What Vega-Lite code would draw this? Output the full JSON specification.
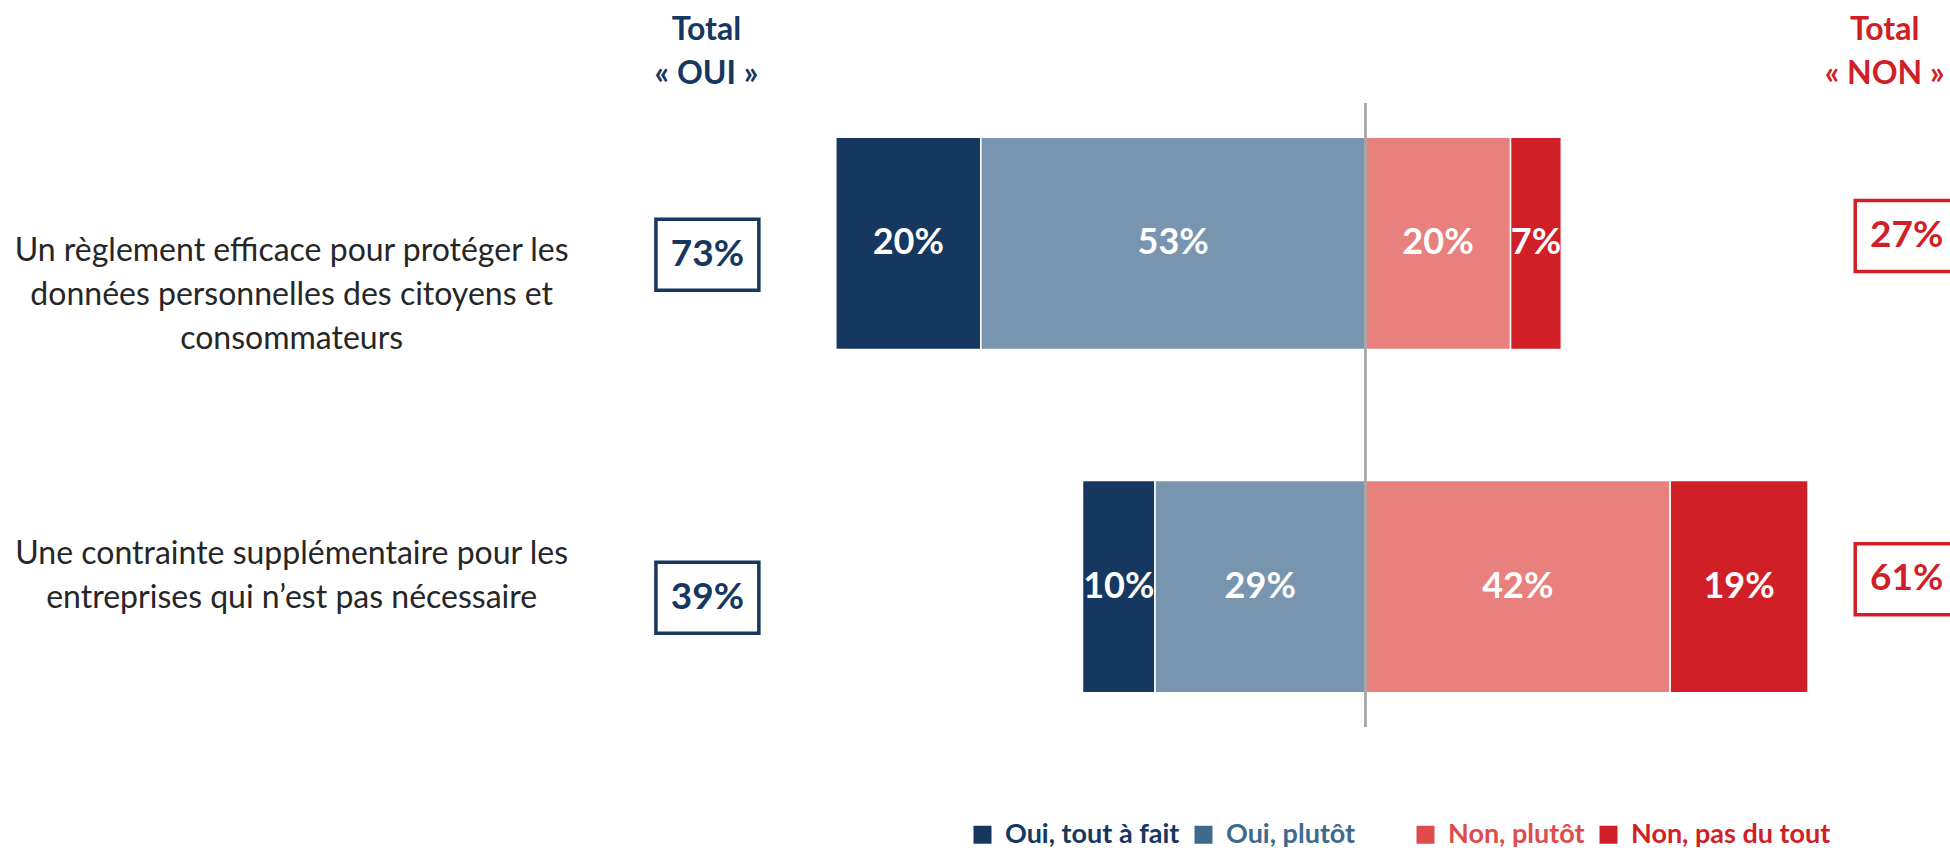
{
  "$schema": "https://vega.github.io/schema/vega-lite/v6.json",
  "width": 1950,
  "height": 624,
  "padding": {"top": 13, "left": 0, "right": 0, "bottom": 0},
  "background": "white",
  "config": {"view": {"stroke": null}, "font": "Lato"},
  "resolve": {"scale": {"color": "independent"}, "axis": {"x": "independent"}},
  "data": {
    "values": [
      {"question": "Un règlement efficace pour protéger les\ndonnées personnelles des citoyens et\nconsommateurs", "answer": "Oui, tout à fait", "value": -20, "level": 2},
      {"question": "Un règlement efficace pour protéger les\ndonnées personnelles des citoyens et\nconsommateurs", "answer": "Oui, plutôt", "value": -53, "level": 1},
      {"question": "Un règlement efficace pour protéger les\ndonnées personnelles des citoyens et\nconsommateurs", "answer": "Non, plutôt", "value": 20, "level": 1},
      {"question": "Un règlement efficace pour protéger les\ndonnées personnelles des citoyens et\nconsommateurs", "answer": "Non, pas du tout", "value": 7, "level": 2},
      {"question": "Une contrainte supplémentaire pour les\nentreprises qui n’est pas nécessaire", "answer": "Oui, tout à fait", "value": -10, "level": 2},
      {"question": "Une contrainte supplémentaire pour les\nentreprises qui n’est pas nécessaire", "answer": "Oui, plutôt", "value": -29, "level": 1},
      {"question": "Une contrainte supplémentaire pour les\nentreprises qui n’est pas nécessaire", "answer": "Non, plutôt", "value": 42, "level": 1},
      {"question": "Une contrainte supplémentaire pour les\nentreprises qui n’est pas nécessaire", "answer": "Non, pas du tout", "value": 19, "level": 2}
    ]
  },
  "layer": [
    {
      "transform": [
        {"stack": "value", "groupby": ["question"], "sort": [{"field": "level", "order": "ascending"}], "as": ["x0", "x1"]}
      ],
      "mark": {"type": "bar", "stroke": "white", "strokeWidth": 1.5},
      "encoding": {
        "x": {
          "field": "x0",
          "type": "quantitative",
          "scale": {"domain": [-188.2, 80.57], "nice": false, "zero": false},
          "axis": {
            "orient": "top",
            "values": [-90.9, 71.5],
            "labelExpr": "datum.value < 0 ? ['Total', '« OUI »'] : ['Total', '« NON »']",
            "labelColor": {"condition": {"test": "datum.value < 0", "value": "#16375f"}, "value": "#d11f27"},
            "labelFont": "Lato",
            "labelFontWeight": "bold",
            "labelFontSize": 32,
            "labelLineHeight": 44,
            "labelPadding": 57,
            "labelAlign": "center",
            "labelBaseline": "bottom",
            "labelOverlap": false,
            "labelFlush": false,
            "labelBound": false,
            "domain": false,
            "ticks": false,
            "tickSize": 0,
            "grid": false,
            "title": null
          }
        },
        "x2": {"field": "x1"},
        "y": {
          "field": "question",
          "type": "nominal",
          "scale": {"paddingInner": 0.382, "paddingOuter": 0.1, "align": 0.5},
          "axis": null
        },
        "color": {
          "field": "answer",
          "type": "nominal",
          "scale": {
            "domain": ["Oui, tout à fait", "Oui, plutôt", "Non, plutôt", "Non, pas du tout"],
            "range": ["#16375f", "#7795ae", "#e8807e", "#d11f27"]
          },
          "legend": null
        }
      }
    },
    {
      "mark": {"type": "square", "opacity": 0},
      "encoding": {
        "x": {"datum": 0, "type": "quantitative", "axis": null},
        "y": {"field": "question", "type": "nominal", "axis": null},
        "color": {
          "field": "answer",
          "type": "nominal",
          "scale": {
            "domain": ["Oui, tout à fait", "Oui, plutôt", " ", "Non, plutôt", "Non, pas du tout"],
            "range": ["#16375f", "#3f6a8c", "transparent", "#e04b4b", "#d11f27"]
          },
          "legend": {
            "orient": "none",
            "legendX": 969,
            "legendY": 718,
            "direction": "horizontal",
            "title": null,
            "symbolType": "square",
            "symbolSize": 324,
            "symbolStrokeWidth": 0,
            "symbolOpacity": 1,
            "labelFont": "Lato",
            "labelFontWeight": "bold",
            "labelFontSize": 27,
            "labelOffset": 9,
            "columnPadding": 10,
            "padding": 0,
            "labelLimit": 400,
            "labelColor": {"expr": "datum.value === 'Oui, tout à fait' ? '#16375f' : datum.value === 'Oui, plutôt' ? '#3f6a8c' : datum.value === 'Non, plutôt' ? '#e04b4b' : datum.value === 'Non, pas du tout' ? '#d11f27' : 'transparent'"}
          }
        }
      }
    },
    {
      "mark": {"type": "rule", "color": "#a6a6a6", "strokeWidth": 1.5},
      "encoding": {"x": {"datum": 0, "type": "quantitative", "axis": null}}
    },
    {
      "transform": [
        {"stack": "value", "groupby": ["question"], "sort": [{"field": "level", "order": "ascending"}], "as": ["x0", "x1"]},
        {"calculate": "(datum.x0 + datum.x1) / 2", "as": "mid"},
        {"calculate": "abs(datum.value) + '%'", "as": "lbl"}
      ],
      "mark": {"type": "text", "font": "Lato", "fontWeight": "bold", "fontSize": 36, "color": "white", "align": "center", "baseline": "middle"},
      "encoding": {
        "x": {"field": "mid", "type": "quantitative", "axis": null},
        "y": {"field": "question", "type": "nominal", "axis": null},
        "text": {"field": "lbl"}
      }
    },
    {
      "transform": [
        {"filter": "datum.value < 0"},
        {"aggregate": [{"op": "sum", "field": "value", "as": "s"}], "groupby": ["question"]},
        {"calculate": "abs(datum.s) + '%'", "as": "tot"}
      ],
      "encoding": {
        "x": {"datum": -90.7, "type": "quantitative", "axis": null},
        "y": {"field": "question", "type": "nominal", "bandPosition": 0.553, "axis": null}
      },
      "layer": [
        {"mark": {"type": "point", "shape": "M-1.45,-1H1.45V1H-1.45Z", "size": 5041, "filled": false, "color": "#16375f", "strokeWidth": 3.5, "opacity": 1}},
        {"mark": {"type": "text", "font": "Lato", "fontWeight": "bold", "fontSize": 37, "color": "#16375f", "align": "center", "baseline": "middle"}, "encoding": {"text": {"field": "tot"}}}
      ]
    },
    {
      "transform": [
        {"filter": "datum.value > 0"},
        {"aggregate": [{"op": "sum", "field": "value", "as": "s"}], "groupby": ["question"]},
        {"calculate": "abs(datum.s) + '%'", "as": "tot"}
      ],
      "encoding": {
        "x": {"datum": 74.6, "type": "quantitative", "axis": null},
        "y": {"field": "question", "type": "nominal", "bandPosition": 0.465, "axis": null}
      },
      "layer": [
        {"mark": {"type": "point", "shape": "M-1.45,-1H1.45V1H-1.45Z", "size": 5041, "filled": false, "color": "#d11f27", "strokeWidth": 3.5, "opacity": 1, "clip": true}},
        {"mark": {"type": "text", "font": "Lato", "fontWeight": "bold", "fontSize": 37, "color": "#d11f27", "align": "center", "baseline": "middle"}, "encoding": {"text": {"field": "tot"}}}
      ]
    },
    {
      "transform": [{"filter": "datum.answer === 'Oui, plutôt' && indexof(datum.question, 'Un règlement') === 0"}],
      "mark": {"type": "text", "font": "Lato", "fontSize": 32, "color": "#262626", "lineBreak": "\n", "lineHeight": 44, "align": "center", "baseline": "middle"},
      "encoding": {
        "x": {"datum": -148, "type": "quantitative", "axis": null},
        "y": {"field": "question", "type": "nominal", "bandPosition": 0.538, "axis": null},
        "text": {"field": "question"}
      }
    },
    {
      "transform": [{"filter": "datum.answer === 'Oui, plutôt' && indexof(datum.question, 'Une contrainte') === 0"}],
      "mark": {"type": "text", "font": "Lato", "fontSize": 32, "color": "#262626", "lineBreak": "\n", "lineHeight": 44, "align": "center", "baseline": "middle"},
      "encoding": {
        "x": {"datum": -148, "type": "quantitative", "axis": null},
        "y": {"field": "question", "type": "nominal", "bandPosition": 0.346, "axis": null},
        "text": {"field": "question"}
      }
    }
  ]
}
